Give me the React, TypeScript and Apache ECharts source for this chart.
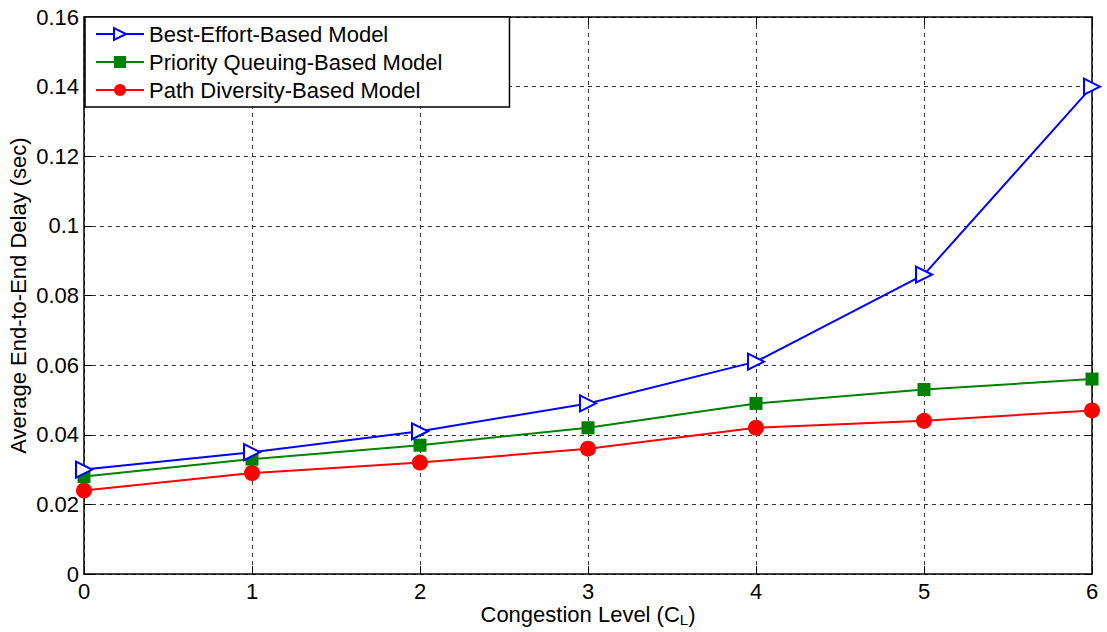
import React, { useEffect, useRef } from "react";
import * as echarts from "echarts";

const congestionLevels = [0, 1, 2, 3, 4, 5, 6];
const bestEffort = [0.03, 0.035, 0.041, 0.049, 0.061, 0.086, 0.14];
const priorityQueuing = [0.028, 0.033, 0.037, 0.042, 0.049, 0.053, 0.056];
const pathDiversity = [0.024, 0.029, 0.032, 0.036, 0.042, 0.044, 0.047];
const seriesNames = [
  "Best-Effort-Based Model",
  "Priority Queuing-Based Model",
  "Path Diversity-Based Model",
];

const FONT = "Liberation Sans, Arial, sans-serif";

export default function App() {
  const ref = useRef<HTMLDivElement>(null);
  useEffect(() => {
    if (!ref.current) return;
    const chart = echarts.init(ref.current, undefined, { renderer: "svg" });
    const pairs = (ys: number[]) => congestionLevels.map((x, i) => [x, ys[i]]);
    const gridLine = { show: true, lineStyle: { color: "#333", type: [4, 4] as any, width: 1 } };
    const axisLine = { show: true, onZero: false, lineStyle: { color: "#000", width: 1.5 } };
    const tick = { show: true, inside: true, length: 8, lineStyle: { color: "#000" } };
    const labelStyle = { color: "#000", fontSize: 22, fontFamily: FONT };
    chart.setOption({
      animation: false,
      backgroundColor: "#fff",
      textStyle: { fontFamily: FONT },
      grid: {
        left: 84,
        right: 15,
        top: 17,
        bottom: 58,
        containLabel: false,
        outerBoundsMode: "none",
      },
      legend: {
        orient: "vertical",
        left: 85,
        top: 17,
        backgroundColor: "#fff",
        borderColor: "#000",
        borderWidth: 1.5,
        borderRadius: 0,
        padding: [6, 67, 6, 10],
        itemGap: 6,
        itemWidth: 48,
        itemHeight: 15,
        textStyle: { color: "#000", fontSize: 22, fontFamily: FONT },
        data: seriesNames,
      },
      xAxis: [
        {
          type: "value",
          min: 0,
          max: 6,
          interval: 1,
          position: "bottom",
          axisLine,
          axisTick: tick,
          splitLine: gridLine,
          axisLabel: { ...labelStyle, margin: 6 },
          name: "Congestion Level (C{sub|L})",
          nameLocation: "middle",
          nameMoveOverlap: false,
          nameGap: 29,
          nameTextStyle: {
            color: "#000",
            fontSize: 22,
            fontFamily: FONT,
            verticalAlign: "top",
            lineHeight: 22,
            rich: {
              sub: { fontSize: 15, fontFamily: FONT, color: "#000", padding: [10, 0, 0, 0] },
            },
          },
        },
        {
          type: "value",
          min: 0,
          max: 6,
          interval: 1,
          position: "top",
          axisLine,
          axisTick: tick,
          splitLine: { show: false },
          axisLabel: { show: false },
        },
      ],
      yAxis: [
        {
          type: "value",
          min: 0,
          max: 0.16,
          interval: 0.02,
          position: "left",
          axisLine,
          axisTick: tick,
          splitLine: gridLine,
          axisLabel: {
            ...labelStyle,
            margin: 5,
            formatter: (v: number) => String(+v.toFixed(2)),
          },
          name: "Average End-to-End Delay (sec)",
          nameLocation: "middle",
          nameMoveOverlap: false,
          nameGap: 55,
          nameTextStyle: { color: "#000", fontSize: 22, fontFamily: FONT },
        },
        {
          type: "value",
          min: 0,
          max: 0.16,
          interval: 0.02,
          position: "right",
          axisLine,
          axisTick: tick,
          splitLine: { show: false },
          axisLabel: { show: false },
        },
      ],
      series: [
        {
          name: seriesNames[0],
          type: "line",
          data: pairs(bestEffort),
          symbol: "triangle",
          symbolRotate: -90,
          symbolSize: 16,
          lineStyle: { color: "#0000ff", width: 2 },
          itemStyle: { color: "#fff", borderColor: "#0000ff", borderWidth: 2 },
          color: "#0000ff",
          z: 4,
        },
        {
          name: seriesNames[1],
          type: "line",
          data: pairs(priorityQueuing),
          symbol: "rect",
          symbolSize: 13,
          lineStyle: { color: "#008000", width: 2 },
          itemStyle: { color: "#008000" },
          z: 3,
        },
        {
          name: seriesNames[2],
          type: "line",
          data: pairs(pathDiversity),
          symbol: "circle",
          symbolSize: 16,
          lineStyle: { color: "#ff0000", width: 2 },
          itemStyle: { color: "#ff0000" },
          z: 2,
        },
      ],
    });
    return () => chart.dispose();
  }, []);
  return (
    <div
      ref={ref}
      style={{ position: "fixed", left: 0, top: 0, width: 1107, height: 632, background: "#fff" }}
    />
  );
}
